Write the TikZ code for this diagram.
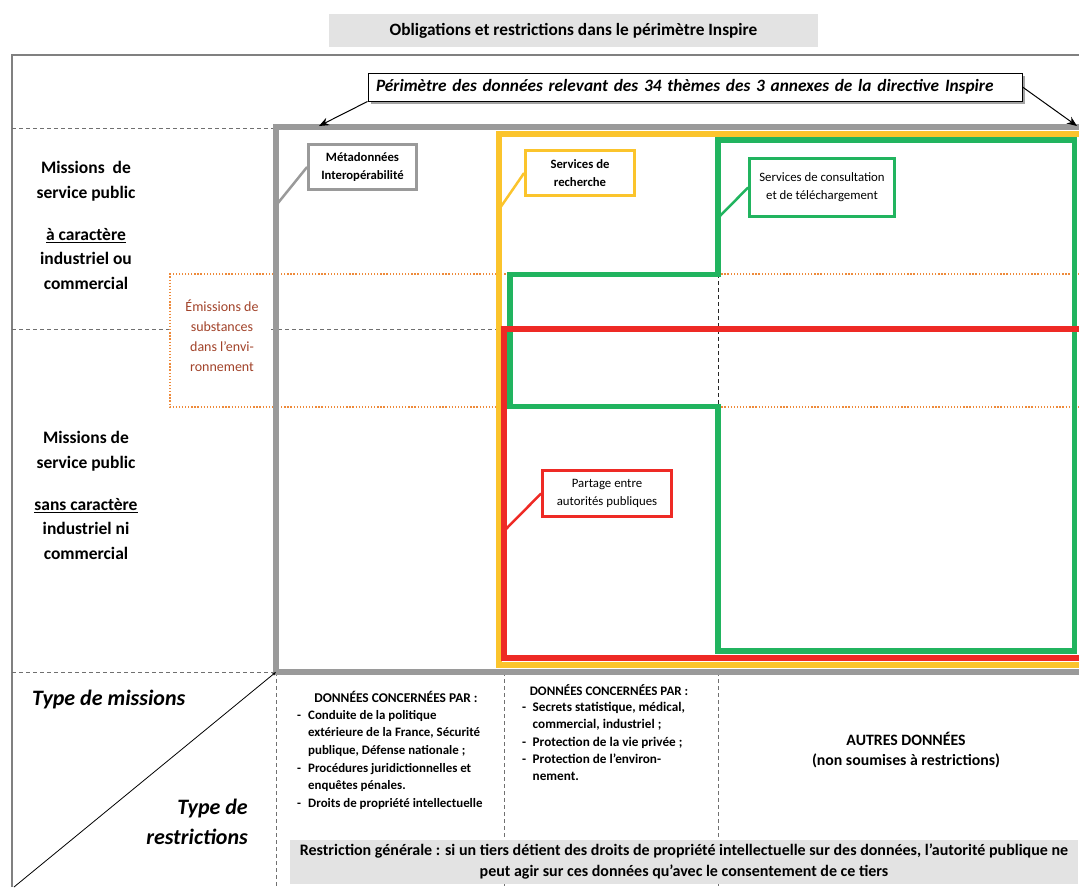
\documentclass[tikz,border=0pt]{standalone}
\usepackage{fontspec}
\setmainfont{Carlito}
\usetikzlibrary{shadows,arrows.meta}
\definecolor{frameGray}{HTML}{9A9A9A}
\definecolor{insYellow}{HTML}{FBC42C}
\definecolor{insGreen}{HTML}{21B45F}
\definecolor{insRed}{HTML}{EE2A25}
\definecolor{insOrange}{HTML}{EE8A3A}
\definecolor{emisText}{HTML}{A2432A}
\definecolor{boxFill}{HTML}{E3E3E3}
\definecolor{dashGray}{HTML}{707070}
\definecolor{outerGray}{HTML}{808080}
\newcommand\fsz[2]{\fontsize{#1}{#2}\selectfont}
\newcommand\itmA[1]{\makebox[11pt][l]{-}#1}
\newcommand\cntA[1]{\hspace*{11pt}#1}
\newcommand\itmB[1]{\makebox[10.5pt][l]{-}#1}
\newcommand\cntB[1]{\hspace*{10.5pt}#1}
\begin{document}
\begin{tikzpicture}[x=1pt,y=-1pt,
  thickframe/.style={line width=5.5pt},
  outerln/.style={draw=outerGray, line width=1.1pt},
  dashln/.style={draw=dashGray, line width=1pt, dash pattern=on 4pt off 3pt},
  dotln/.style={draw=insOrange, line width=1.3pt, dash pattern=on 1.3pt off 1.8pt},
  titlebox/.style={fill=boxFill, minimum width=489pt, minimum height=33pt, inner sep=0pt, font=\bfseries\fsz{17.3}{20}},
  callout/.style={draw=black, line width=1pt, fill=white, text width=638pt, align=left, inner xsep=8pt, inner ysep=4pt, minimum height=28pt, font=\bfseries\itshape\fsz{17.3}{20}, drop shadow={shadow xshift=3pt, shadow yshift=-3pt, fill=black!45, opacity=0.8}},
  callarrow/.style={draw=black, line width=1pt, -{Stealth[length=10pt, width=8pt]}},
  mission/.style={align=center, inner sep=0pt, font=\bfseries\fsz{17.5}{24.5}},
  emis/.style={align=center, inner sep=1pt, text=emisText, font=\fsz{14}{20}},
  lab/.style={fill=white, line width=2.8pt, align=center, inner sep=0pt, font=\fsz{12.8}{18}},
  labln/.style={line width=2.5pt},
  typetxt/.style={inner sep=0pt, font=\bfseries\itshape\fsz{22}{30}},
  diagln/.style={draw=black, line width=0.8pt, -{Stealth[length=4pt, width=3pt]}},
  coltitle/.style={inner sep=0pt, font=\bfseries\fsz{13.4}{17}},
  colitemsA/.style={inner sep=0pt, align=left, font=\bfseries\fsz{12.9}{17.6}},
  colitemsB/.style={inner sep=0pt, align=left, font=\bfseries\fsz{13.2}{17.3}},
  autres/.style={inner sep=0pt, align=center, font=\bfseries\fsz{15.8}{19.5}},
  restrbox/.style={fill=boxFill, minimum width=788pt, minimum height=44pt, inner sep=0pt, align=center, font=\bfseries\fsz{16}{21}}
]
\useasboundingbox (0,0) rectangle (1079,887);

% title
\node[titlebox] (title) at (573.5,30.5) {Obligations et restrictions dans le périmètre Inspire};

% outer frame lines
\coordinate (oBL) at (12,887);
\coordinate (oTL) at (12,55);
\coordinate (oTR) at (1079,55);
\draw[outerln] (oBL) -- (oTL) -- (oTR);

% dashed guide lines
\draw[dashln] (12,128) -- (276,128);
\draw[dashln] (12,329) -- (499,329);
\draw[dashln] (12,672) -- (276,672);
\draw[dashln] (276,672) -- (276,887);
\draw[dashln] (504,672) -- (504,887);
\draw[dashln] (718,672) -- (718,887);

% emissions zone
\fill[white] (170,274) rectangle (270,407);
\draw[dotln] (1079,274) -- (170,274) -- (170,407) -- (1079,407);
\node[emis] (emis) at (222,336) {Émissions de\\substances\\dans l’envi-\\ronnement};

\draw[dashln, draw=black!85] (718,274) -- (718,407);

% frames
\draw[frameGray, thickframe] (1100,127) -- (276,127) -- (276,672) -- (1100,672);
\draw[insYellow, thickframe] (1100,134) -- (499,134) -- (499,665) -- (1100,665);
\draw[insGreen, thickframe] (1074.5,140) -- (718,140) -- (718,274.5) -- (510,274.5) -- (510,406.5) -- (718,406.5) -- (718,651) -- (1074.5,651) -- cycle;
\draw[insRed, thickframe] (1100,329) -- (504,329) -- (504,658) -- (1100,658);

% callout
\node[callout] (perim) at (695,87) {Périmètre des données relevant des 34 thèmes des 3 annexes de la directive Inspire};
\coordinate (tipL) at (319,126);
\coordinate (tipR) at (1077,126);
\draw[callarrow] (perim.south west) -- (tipL);
\draw[callarrow] (perim.east) -- (tipR);

% label boxes
\node[lab, draw=frameGray, minimum width=108pt, minimum height=45pt, font=\bfseries\fsz{12.7}{18}] (meta) at (362.5,167) {Métadonnées\\Interopérabilité};
\coordinate (metaT) at (278,203);
\draw[labln, frameGray] (meta.west) -- (metaT);

\node[lab, draw=insYellow, minimum width=109pt, minimum height=45pt, font=\bfseries\fsz{12.7}{18}] (rech) at (580,173) {Services de\\recherche};
\coordinate (rechT) at (500,208);
\draw[labln, insYellow] (rech.west) -- (rechT);

\node[lab, draw=insGreen, minimum width=145pt, minimum height=58pt] (consult) at (822,187.5) {Services de consultation\\et de téléchargement};
\coordinate (consultT) at (718,218);
\draw[labln, insGreen] (consult.west) -- (consultT);

\node[lab, draw=insRed, minimum width=129pt, minimum height=46pt] (partage) at (607,493.5) {Partage entre\\autorités publiques};
\coordinate (partageT) at (505,530);
\draw[labln, insRed] (partage.west) -- (partageT);

% mission labels
\node[mission] (m1a) at (86,181) {Missions~ de\\service public};
\node[mission] (m1b) at (86,259) {\underline{à caractère}\\industriel ou\\commercial};
\node[mission] (m2a) at (86,451) {Missions de\\service public};
\node[mission] (m2b) at (86,529) {\underline{sans caractère}\\industriel ni\\commercial};

% bottom-left corner
\coordinate (dA) at (14,887);
\coordinate (dB) at (276,672);
\draw[diagln] (dA) -- (dB);
\node[typetxt, anchor=west] (tm) at (32,699) {Type de missions};
\node[typetxt, anchor=east, align=right] (tr) at (248,822) {Type de\\restrictions};

% column 1
\node[coltitle] (c1h) at (396,697) {DONNÉES CONCERNÉES PAR :};
\node[colitemsA, anchor=north west] (c1i) at (297,710) {\itmA{Conduite de la politique}\\\cntA{extérieure de la France, Sécurité}\\\cntA{publique, Défense nationale ;}\\\itmA{Procédures juridictionnelles et}\\\cntA{enquêtes pénales.}\\\itmA{Droits de propriété intellectuelle}};

% column 2
\node[coltitle, font=\bfseries\fsz{13}{17}] (c2h) at (609,690.5) {DONNÉES CONCERNÉES PAR :};
\node[colitemsB, anchor=north west] (c2i) at (522,702) {\itmB{Secrets statistique, médical,}\\\cntB{commercial, industriel ;}\\\itmB{Protection de la vie privée ;}\\\itmB{Protection de l’environ-}\\\cntB{nement.}};

% column 3
\node[autres] (autres) at (906,750) {AUTRES DONNÉES\\(non soumises à restrictions)};

% general restriction
\node[restrbox] (restr) at (684,862) {Restriction générale : si un tiers détient des droits de propriété intellectuelle sur des données, l’autorité publique ne\\peut agir sur ces données qu’avec le consentement de ce tiers};
\end{tikzpicture}
\end{document}
